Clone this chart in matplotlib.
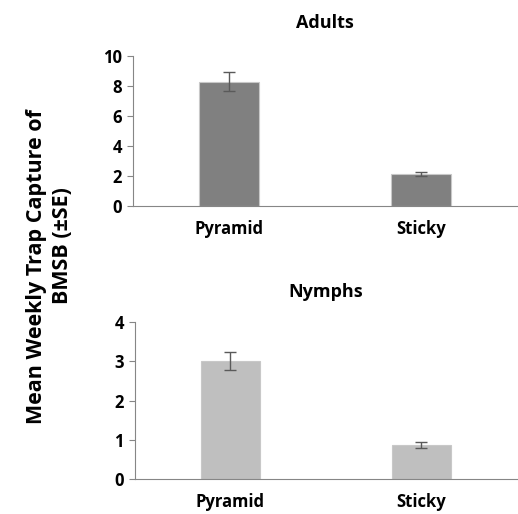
import matplotlib
matplotlib.use("Agg")
from matplotlib import pyplot as plt

plt.rcParams['font.family'] = ['Open Sans', 'DejaVu Sans']

traps = ["Pyramid", "Sticky"]
adult_means = [8.3, 2.12]
adult_se = [0.65, 0.13]
nymph_means = [3.01, 0.87]
nymph_se = [0.22, 0.07]

AXIS_GRAY = "#868686"


def draw_panel(ax, means, errs, color, title, ymax, step, title_pad):
    x = range(len(traps))
    ax.bar(x, means, width=0.31, color=color, edgecolor="#c8c8c8", linewidth=0.8,
           yerr=errs, error_kw=dict(ecolor="#5a5a5a", elinewidth=1, capsize=4, capthick=1))
    ax.set_xlim(-0.5, len(traps) - 0.5)
    ax.set_ylim(0, ymax)
    ax.set_yticks(range(0, ymax + 1, step))
    ax.set_xticks(list(x))
    ax.set_xticklabels(traps, fontsize=12, fontweight="bold")
    for lab in ax.get_yticklabels():
        lab.set_fontsize(12)
        lab.set_fontweight("bold")
    ax.tick_params(axis="x", length=0, pad=10)
    ax.tick_params(axis="y", length=4, color=AXIS_GRAY, pad=4)
    for side in ["top", "right"]:
        ax.spines[side].set_visible(False)
    for side in ["left", "bottom"]:
        ax.spines[side].set_color(AXIS_GRAY)
    ax.set_title(title, fontsize=13, fontweight="bold", pad=title_pad)


fig = plt.figure(figsize=(5.18, 5.14), dpi=100)
ax1 = fig.add_axes([0.2568, 0.5992, 0.741, 0.2918])
ax2 = fig.add_axes([0.2606, 0.0681, 0.737, 0.3049])

draw_panel(ax1, adult_means, adult_se, "#808080", "Adults", 10, 2, 20)
draw_panel(ax2, nymph_means, nymph_se, "#bfbfbf", "Nymphs", 4, 1, 18)

# axis title, two lines as in the original
fig.text(0.070, 0.4815, "Mean Weekly Trap Capture of", rotation=90,
         ha="center", va="center", fontsize=15.5, fontweight="bold")
fig.text(0.120, 0.5224, "BMSB (\u00b1SE)", rotation=90,
         ha="center", va="center", fontsize=15.5, fontweight="bold")

fig.savefig("out.png", dpi=100)
